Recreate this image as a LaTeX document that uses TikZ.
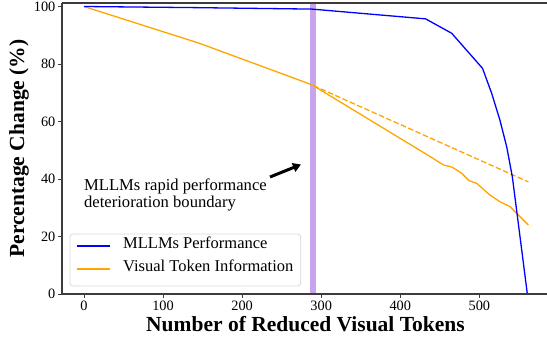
\documentclass[tikz,border=0pt]{standalone}
\usepackage{fontspec}
\setmainfont{Liberation Serif}
\usetikzlibrary{arrows.meta}
\definecolor{mblue}{RGB}{0,0,255}
\definecolor{morange}{RGB}{255,165,0}
\definecolor{bandcol}{RGB}{200,163,238}
\definecolor{spinecol}{RGB}{60,60,60}
\begin{document}
\begin{tikzpicture}[x=1pt,y=1pt,
  ticklab/.style={inner sep=0pt,font=\fontsize{14.3}{16}\selectfont},
  axlab/.style={inner sep=0pt,font=\fontsize{21.5}{24}\selectfont\bfseries},
  anntext/.style={inner sep=0pt,anchor=base west,font=\fontsize{16.6}{18}\selectfont},
  legtext/.style={inner sep=0pt,anchor=mid west,font=\fontsize{16.5}{18}\selectfont},
  blueline/.style={draw=mblue,line width=1.3pt,line join=round},
  orangeline/.style={draw=morange,line width=1.3pt,line join=round},
  spine/.style={draw=spinecol,line width=1.1pt},
  tickmark/.style={draw=spinecol,line width=0.9pt}]
\useasboundingbox (0,0) rectangle (547,341);
\begin{scope}[shift={(84,47)},x=0.7907pt,y=2.875pt]
  % highlight band
  \fill[bandcol] (286,0) rectangle (294,101.2);
  % dashed extrapolation
  \draw[orangeline,dash pattern=on 5.5pt off 2.5pt] (290,72.5) -- (562,39);
  % visual token information
  \draw[orangeline] plot coordinates {(0,100) (146,87.2) (288,72.8) (431.3,48.9) (454.5,44.9) (465.8,44.1) (477.6,42) (487,39.4) (496.6,38.5) (513.5,34.4) (526,32.1) (538.7,30.4) (549.3,27.5) (562,24)};
  % MLLM performance
  \draw[blueline] plot coordinates {(0,100) (144,99.6) (288,99.1) (432,95.7) (465,90.7) (504,78.5) (515.6,69.8) (526,60.5) (534.6,51.2) (541.7,40.8) (551.4,20) (560.7,0)};
  % frame
  \draw[spine] (-27.8,0) -- (588,0);
  \draw[spine] (-27.8,0) -- (-27.8,101.2);
  \draw[spine] (-27.8,101.2) -- (588,101.2);
  % x ticks
  \foreach \v in {0,100,200,300,400,500} {
    \draw[tickmark] (\v,0) -- ++(0,-4pt);
    \node[ticklab,anchor=base] (xt\v) at ([yshift=-16.8pt]\v,0) {\v};
  }
  % y ticks
  \foreach \v in {0,20,40,60,80,100} {
    \draw[tickmark] (-27.8,\v) -- ++(-4pt,0);
    \node[ticklab,anchor=east] (yt\v) at ([xshift=-6.5pt]-27.8,\v) {\v};
  }
\end{scope}
% axis labels
\node[axlab,anchor=base] (xlab) at (305.5,9.5) {Number of Reduced Visual Tokens};
\node[axlab,anchor=base,rotate=90] (ylab) at (24,192.5) {Percentage Change (\%)};
% annotation
\node[anntext] (ann1) at (84,150.3) {MLLMs rapid performance};
\node[anntext] (ann2) at (84,133.7) {deterioration boundary};
\coordinate (arrtail) at (270,164);
\coordinate (arrhead) at (301,176.5);
\draw[line width=3pt,-{Triangle[width=9pt,length=8pt]}] (arrtail) -- (arrhead);
% legend
\draw[draw=black!15,fill=white,rounded corners=3pt,line width=0.8pt] (70,55) rectangle (300.7,107);
\coordinate (lb1) at (77,95);
\coordinate (lb2) at (110,95);
\draw[blueline] (lb1) -- (lb2);
\node[legtext] (leg1) at (123,95) {MLLMs Performance};
\coordinate (lo1) at (77,72);
\coordinate (lo2) at (110,72);
\draw[draw=morange,line width=1.5pt] (lo1) -- (lo2);
\node[legtext] (leg2) at (123,72) {Visual Token Information};
\end{tikzpicture}
\end{document}
